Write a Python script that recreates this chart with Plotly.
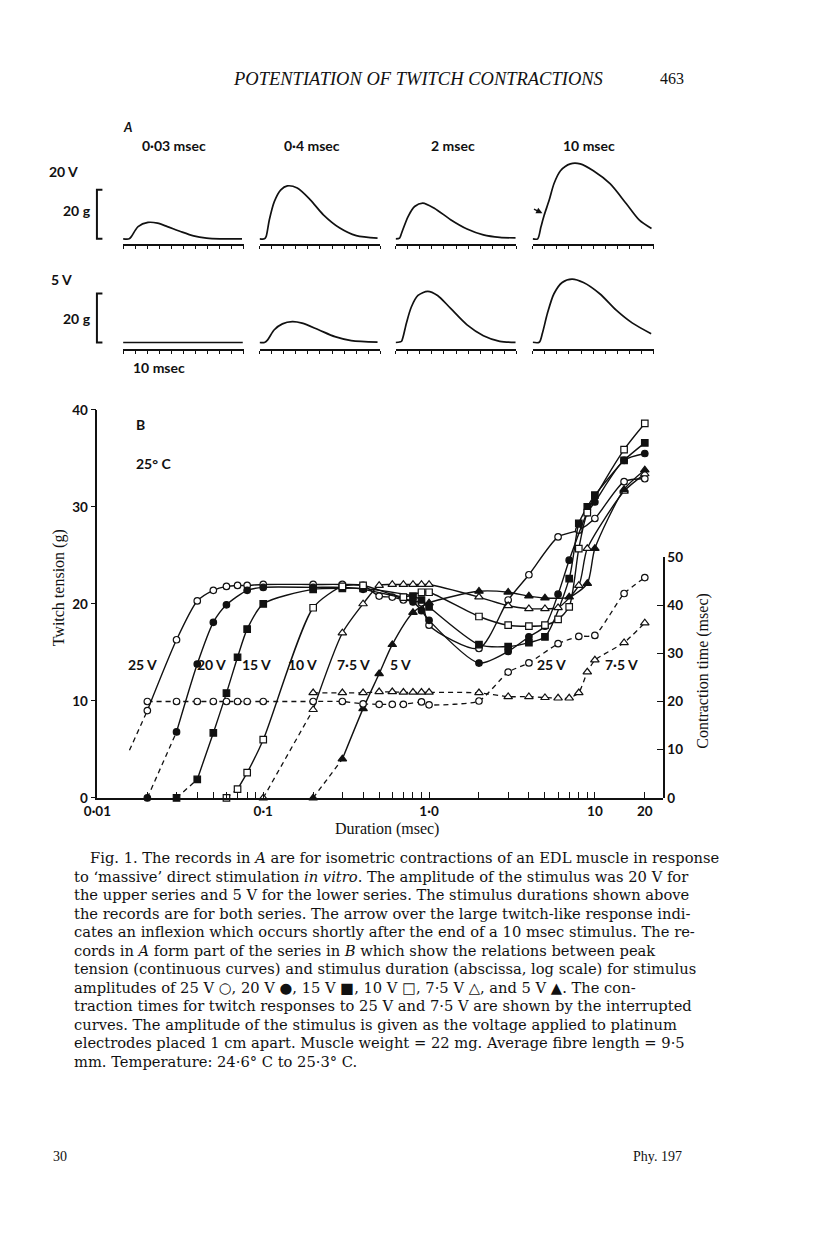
"""Fig. 1 page: twitch records (A) and peak tension / contraction time vs duration (B)."""

import math

import plotly.graph_objects as go

W, H = 800, 1242
# page pixel -> figure pixel, measured from the photographed output
X_OFF, X_SCALE = 20.5, 0.9835
Y_OFF, Y_SCALE = 16.2, 0.987
SANS = "Lato"
SERIF = "Liberation Serif"
CAPTION_FONT = "DejaVu Serif"
INK = "#111111"

# ---------------------------------------------------------------- panel A data
# time after stimulus (ms) and tension (g)
A_COLUMNS = ["0·03 msec", "0·4 msec", "2 msec", "10 msec"]
A_ROWS = ["20 V", "5 V"]

A20_003_T = [0, 5, 6.8, 12.4, 20.6, 28.5, 36.6, 47.4, 58.3, 69.1, 79.9, 98.4]
A20_003_G = [0, 0, 0.9, 5.0, 6.7, 6.4, 5.0, 3.0, 1.2, 0.3, 0, 0]
A20_04_T = [0, 4, 5.4, 8.1, 12.2, 17.6, 23.0, 31.2, 42.0, 52.8, 66.4, 80.0, 97.6]
A20_04_G = [0, 0, 0.9, 7.8, 15.2, 20.0, 21.6, 20.7, 15.9, 9.8, 4.4, 1.3, 0.3]
A20_2_T = [0, 3.3, 4.9, 10.3, 15.7, 22.5, 32.0, 45.5, 59.1, 72.6, 86.2, 99.2]
A20_2_G = [0, 0.3, 2.3, 9.1, 13.2, 14.6, 12.5, 7.8, 4.0, 1.6, 0.6, 0.4]
A20_10_T = [0, 4.1, 6.8, 9.5, 13.6, 17.6, 23.0, 31.2, 39.3, 50.2, 64.0, 77.5, 88.3, 98.3]
A20_10_G = [0, 0, 4.8, 9.6, 15.7, 22.5, 27.8, 30.6, 30.6, 27.8, 22.5, 14.3, 7.6, 4.2]

A5_003_T = [0, 50, 99]
A5_003_G = [0, 0, 0]
A5_04_T = [0, 4, 6.7, 12.2, 18.9, 27.1, 35.2, 48.8, 62.3, 75.9, 97.6]
A5_04_G = [0, 0, 1.1, 5.2, 7.6, 8.5, 7.9, 5.2, 2.4, 0.8, 0.2]
A5_2_T = [0, 3.3, 4.9, 8.9, 13.0, 18.5, 26.6, 34.7, 45.5, 59.1, 72.6, 86.2, 99.2]
A5_2_G = [0, 0.2, 0.5, 7.9, 14.5, 19.2, 20.9, 19.2, 13.9, 7.2, 2.8, 0.5, 0.1]
A5_10_T = [0, 5.4, 8.1, 12.2, 17.6, 24.4, 32.5, 42.0, 55.5, 69.1, 82.6, 98.0]
A5_10_G = [0.1, 0.1, 3.9, 11.9, 19.9, 24.5, 25.9, 24.5, 19.9, 13.2, 7.9, 3.6]

A_RECORDS = [
    [(A20_003_T, A20_003_G), (A20_04_T, A20_04_G), (A20_2_T, A20_2_G), (A20_10_T, A20_10_G)],
    [(A5_003_T, A5_003_G), (A5_04_T, A5_04_G), (A5_2_T, A5_2_G), (A5_10_T, A5_10_G)],
]

# ---------------------------------------------------------------- panel B data
# stimulus duration (msec) vs peak twitch tension (g)
V25_X = [0.02, 0.03, 0.04, 0.05, 0.06, 0.07, 0.08, 0.1, 0.2, 0.3, 0.4, 0.5, 0.6, 0.7,
         0.9, 1.0, 2, 3, 4, 6, 8, 10, 15, 20]
V25_Y = [9.0, 16.3, 20.3, 21.4, 21.8, 21.9, 21.9, 22.0, 22.0, 22.0, 21.9, 20.8, 20.7, 20.4,
         20.1, 17.8, 15.4, 20.4, 23.0, 26.9, 27.6, 28.8, 32.6, 32.9]
V25_EXTRAP_X = [0.0156]
V25_EXTRAP_Y = [4.9]

V20_X = [0.02, 0.03, 0.04, 0.05, 0.06, 0.08, 0.1, 0.2, 0.3, 0.4, 0.8, 0.9, 1.0, 2, 3, 4, 5,
         6, 7, 9, 10, 15, 20]
V20_Y = [0, 6.8, 13.8, 18.1, 19.9, 21.4, 21.7, 21.7, 21.7, 21.5, 20.2, 19.3, 18.3, 13.9, 15.1,
         16.6, 17.7, 21.0, 24.5, 29.4, 30.5, 34.8, 35.5]

V15_X = [0.03, 0.04, 0.05, 0.06, 0.07, 0.08, 0.1, 0.2, 0.3, 0.4, 0.8, 0.9, 1.0, 2, 3, 4, 5,
         7, 8, 9, 10, 15, 20]
V15_Y = [0, 1.9, 6.7, 10.8, 14.5, 17.4, 20.0, 21.5, 21.6, 21.6, 20.8, 20.4, 19.7, 15.8, 15.6,
         16.0, 16.6, 22.6, 28.3, 30.0, 31.2, 34.8, 36.6]

V10_X = [0.06, 0.07, 0.08, 0.1, 0.2, 0.3, 0.4, 0.7, 0.9, 1.0, 2, 3, 4, 5, 6, 7, 8, 9, 15, 20]
V10_Y = [0, 0.9, 2.6, 6.0, 19.6, 21.8, 21.9, 20.7, 21.2, 21.2, 18.7, 17.8, 17.7, 17.8, 18.4,
         19.7, 25.7, 29.4, 35.9, 38.6]

V7_5_X = [0.1, 0.2, 0.3, 0.4, 0.5, 0.6, 0.7, 0.8, 0.9, 1.0, 2, 3, 4, 5, 6, 8, 9, 15, 20]
V7_5_Y = [0, 9.1, 17.0, 20.0, 21.9, 22.0, 22.0, 22.0, 22.0, 22.0, 20.7, 19.8, 19.5, 19.5,
          19.6, 21.9, 25.7, 31.6, 33.4]

V5_X = [0.2, 0.3, 0.4, 0.5, 0.6, 0.8, 1.0, 2, 3, 4, 5, 7, 9, 10, 15, 20]
V5_Y = [0, 4.0, 9.2, 12.8, 15.8, 19.1, 20.1, 21.3, 21.2, 20.8, 20.6, 20.7, 22.1, 25.7,
        31.8, 33.8]

# contraction time (msec), interrupted curves
CT25_X = [0.02, 0.03, 0.04, 0.05, 0.06, 0.07, 0.08, 0.1, 0.2, 0.3, 0.4, 0.5, 0.6, 0.7, 0.9,
          1.0, 2, 3, 4, 6, 8, 10, 15, 20]
CT25_Y = [20, 20, 20, 20, 20, 20, 20, 20, 20, 20, 19.5, 19.4, 19.4, 19.4, 19.9, 19.3, 20.1,
          26.1, 28.0, 32.0, 33.5, 33.7, 42.4, 45.7]
CT7_5_X = [0.2, 0.3, 0.4, 0.5, 0.6, 0.7, 0.8, 0.9, 1.0, 2, 3, 4, 5, 6, 7, 8, 9, 10, 15, 20]
CT7_5_Y = [21.8, 21.8, 21.8, 22, 22, 21.9, 21.9, 21.9, 21.9, 21.8, 21.0, 21.0, 20.8, 20.7,
           20.7, 21.8, 26.1, 28.6, 32.2, 36.3]

X_TICKS = [0.01, 0.02, 0.03, 0.04, 0.05, 0.06, 0.07, 0.08, 0.09,
           0.1, 0.2, 0.3, 0.4, 0.5, 0.6, 0.7, 0.8, 0.9,
           1, 2, 3, 4, 5, 6, 7, 8, 9, 10, 20]
X_TICK_LABELS = {0.01: "0·01", 0.1: "0·1", 1: "1·0", 10: "10", 20: "20"}

CAPTION = [
    "Fig. 1. The records in <i>A</i> are for isometric contractions of an EDL muscle in response",
    "to ‘massive’ direct stimulation <i>in vitro</i>. The amplitude of the stimulus was 20 V for",
    "the upper series and 5 V for the lower series. The stimulus durations shown above",
    "the records are for both series. The arrow over the large twitch-like response indi-",
    "cates an inflexion which occurs shortly after the end of a 10 msec stimulus. The re-",
    "cords in <i>A</i> form part of the series in <i>B</i> which show the relations between peak",
    "tension (continuous curves) and stimulus duration (abscissa, log scale) for stimulus",
    "amplitudes of 25 V ○, 20 V ●, 15 V ■, 10 V □, 7·5 V △, and 5 V ▲. The con-",
    "traction times for twitch responses to 25 V and 7·5 V are shown by the interrupted",
    "curves. The amplitude of the stimulus is given as the voltage applied to platinum",
    "electrodes placed 1 cm apart. Muscle weight = 22 mg. Average fibre length = 9·5",
    "mm. Temperature: 24·6° C to 25·3° C.",
]


def fx(px):
    """Page pixel (x) -> paper fraction of the figure."""
    return (px - X_OFF) / X_SCALE / W


def fy(py):
    """Page pixel (y, from top) -> paper fraction of the figure."""
    return 1 - (py - Y_OFF) / Y_SCALE / H


def lx(px):
    """log10 duration at a horizontal pixel of panel B (label placement)."""
    return (px - 428) / 166


fig = go.Figure()
annotations = []
shapes = []

# ---------------------------------------------------------------- panel A
A_COL_LEFT = [121.7, 258.3, 394.5, 531.7]
A_COL_W = 121
A_ROW_BOX = [(244.5, 141.0, -2.24), (349.3, 249.3, -2.7)]  # (bottom px, top px, range min)
A_GMAX = [40.0, 38.1]

layout_axes = {}
k = 3
for r, row in enumerate(A_RECORDS):
    bottom, top, gmin = A_ROW_BOX[r]
    for c, (t, g) in enumerate(row):
        fig.add_trace(go.Scatter(
            x=t, y=g, mode="lines", xaxis=f"x{k}", yaxis=f"y{k}",
            line=dict(color=INK, width=1.7, shape="spline", smoothing=0.8),
            hoverinfo="skip",
        ))
        layout_axes[f"xaxis{k}"] = dict(
            domain=[fx(A_COL_LEFT[c]), fx(A_COL_LEFT[c] + A_COL_W)], range=[0, 100],
            anchor=f"y{k}", showline=True, linecolor=INK, linewidth=1.8,
            ticks="outside", ticklen=3, tickwidth=1.3, tickcolor=INK,
            tick0=0, dtick=10, showticklabels=False, showgrid=False, zeroline=False,
        )
        layout_axes[f"yaxis{k}"] = dict(
            domain=[fy(bottom), fy(top)], range=[gmin, A_GMAX[r]],
            anchor=f"x{k}", visible=False,
        )
        if c == 0:
            # 20 g calibration bracket
            span = A_GMAX[r] - gmin
            y0 = (0 - gmin) / span
            y1 = (20 - gmin) / span
            x_bar = (95.5 - A_COL_LEFT[0]) / A_COL_W
            x_end = (101 - A_COL_LEFT[0]) / A_COL_W
            shapes.append(dict(
                type="path", xref=f"x{k} domain", yref=f"y{k} domain",
                path=f"M {x_end},{y1} L {x_bar},{y1} L {x_bar},{y0} L {x_end},{y0}",
                line=dict(color=INK, width=2),
            ))
        if r == 0 and c == 3:
            annotations.append(dict(
                x=8.1, y=10.4, xref=f"x{k}", yref=f"y{k}", text="", showarrow=True,
                ax=-10, ay=-5, arrowhead=2, arrowsize=0.9, arrowwidth=1.4, arrowcolor=INK,
            ))
        k += 1

a_font = dict(family=SANS, size=14, color=INK, weight="bold")
for c, label in enumerate(A_COLUMNS):
    annotations.append(dict(x=fx(A_COL_LEFT[c] + [51, 52, 57, 56][c]), y=fy(146),
                            text=label, font=a_font))
annotations += [
    dict(x=fx(120), y=fy(127), text="<i>A</i>", xanchor="left",
         font=dict(family=SANS, size=13, color=INK, weight="bold")),
    dict(x=fx(62), y=fy(172), text=A_ROWS[0], font=a_font),
    dict(x=fx(60), y=fy(280), text=A_ROWS[1], font=a_font),
    dict(x=fx(76), y=fy(211), text="20 g", font=a_font),
    dict(x=fx(76), y=fy(319), text="20 g", font=a_font),
    dict(x=fx(158), y=fy(368), text="10 msec", font=a_font),
]

# ---------------------------------------------------------------- panel B
LINE = dict(color=INK, width=1.4)
DASH = dict(color=INK, width=1.3, dash="5px,4px")

# (x, y, symbol, filled, size)
TENSION_SERIES = [
    (V25_X, V25_Y, "circle", False, 6.5),
    (V20_X, V20_Y, "circle", True, 6.5),
    (V15_X, V15_Y, "square", True, 6.5),
    (V10_X, V10_Y, "square", False, 6.5),
    (V7_5_X, V7_5_Y, "triangle-up", False, 7.5),
    (V5_X, V5_Y, "triangle-up", True, 7.5),
]


def marker(symbol, filled, size):
    return dict(symbol=symbol, size=size, color=INK if filled else "white",
                line=dict(color=INK, width=1.2))


for xs, ys, symbol, filled, size in TENSION_SERIES:
    if ys[0] == 0:
        dx, dy = xs[:2], ys[:2]
        sx, sy = xs[1:], ys[1:]
    else:
        dx, dy = V25_EXTRAP_X + xs[:1], V25_EXTRAP_Y + ys[:1]
        sx, sy = xs, ys
    fig.add_trace(go.Scatter(x=dx, y=dy, mode="lines", line=DASH, hoverinfo="skip"))
    fig.add_trace(go.Scatter(
        x=sx, y=sy, mode="lines",
        line=dict(**LINE, shape="spline", smoothing=0.7), hoverinfo="skip",
    ))
    fig.add_trace(go.Scatter(x=xs, y=ys, mode="markers", cliponaxis=False,
                             marker=marker(symbol, filled, size)))

for xs, ys, symbol, size in [(CT25_X, CT25_Y, "circle", 6.5),
                             (CT7_5_X, CT7_5_Y, "triangle-up", 7.5)]:
    fig.add_trace(go.Scatter(
        x=xs, y=ys, mode="lines+markers", yaxis="y2", cliponaxis=False,
        line=dict(**DASH, shape="spline", smoothing=0.5),
        marker=marker(symbol, False, size),
    ))

tick_font = dict(family=SANS, size=13.5, color=INK, weight="bold")
tick_text = [X_TICK_LABELS.get(v, "") for v in X_TICKS]
layout_axes["xaxis"] = dict(
    domain=[fx(96), fx(662)], type="log", range=[-2, math.log10(25.7)], anchor="y",
    showline=True, linecolor=INK, linewidth=1.6, ticks="inside", ticklen=6, tickwidth=1.3,
    tickcolor=INK, tickvals=X_TICKS, ticktext=tick_text, showgrid=False, zeroline=False,
    tickfont=tick_font,
)
layout_axes["yaxis"] = dict(
    domain=[fy(798), fy(410)], range=[0, 40], anchor="x", showline=True, linecolor=INK,
    linewidth=1.6, ticks="outside", ticklen=5, tickwidth=1.3, tickcolor=INK,
    tickvals=[0, 10, 20, 30, 40], showgrid=False, zeroline=False, tickfont=tick_font,
)
layout_axes["yaxis2"] = dict(
    domain=[fy(798), fy(557)], range=[0, 50], anchor="x", side="right", showline=True,
    linecolor=INK, linewidth=1.6, ticks="inside", ticklen=6, tickwidth=1.3, tickcolor=INK,
    tickvals=[0, 10, 20, 30, 40, 50], showgrid=False, zeroline=False, tickfont=tick_font,
)

label_font = dict(family=SANS, size=14, color=INK, weight="bold")
for text, px in [("25 V", 141), ("20 V", 210), ("15 V", 255), ("10 V", 301),
                 ("7·5 V", 352), ("5 V", 399), ("25 V", 551), ("7·5 V", 621)]:
    annotations.append(dict(x=lx(px), y=13.7, xref="x", yref="y", text=text,
                            font=label_font))
annotations += [
    dict(x=fx(133), y=fy(425), text="B", xanchor="left", font=label_font),
    dict(x=fx(133), y=fy(464), text="25° C", xanchor="left", font=label_font),
    dict(x=fx(57), y=fy(588), text="Twitch tension (g)", textangle=-90,
         font=dict(family=SERIF, size=16, color=INK)),
    dict(x=fx(702), y=fy(671), text="Contraction time (msec)", textangle=-90,
         font=dict(family=SERIF, size=16, color=INK)),
    dict(x=fx(386), y=fy(829), text="Duration (msec)",
         font=dict(family=SERIF, size=16, color=INK)),
]

# ---------------------------------------------------------------- page text
annotations += [
    dict(x=fx(417), y=fy(79), text="<i>POTENTIATION OF TWITCH CONTRACTIONS</i>",
         font=dict(family=SERIF, size=18.5, color=INK)),
    dict(x=fx(671), y=fy(79), text="463", font=dict(family=SERIF, size=16, color=INK)),
    dict(x=fx(59), y=fy(1157), text="30", font=dict(family=SERIF, size=14, color=INK)),
    dict(x=fx(657), y=fy(1157), text="Phy. 197", font=dict(family=SERIF, size=14, color=INK)),
]
for i, line in enumerate(CAPTION):
    annotations.append(dict(
        x=fx(87 if i == 0 else 71), y=fy(858 + 18.5 * i), text=line, xanchor="left",
        font=dict(family=CAPTION_FONT, size=14.7, color=INK),
    ))

for a in annotations:
    a.setdefault("showarrow", False)
    a.setdefault("xref", "paper")
    a.setdefault("yref", "paper")
    a.setdefault("xanchor", "center")
    a.setdefault("yanchor", "middle")

fig.update_layout(
    width=W, height=H, margin=dict(l=0, r=0, t=0, b=0),
    paper_bgcolor="white", plot_bgcolor="rgba(0,0,0,0)",
    showlegend=False, annotations=annotations, shapes=shapes,
    **layout_axes,
)
fig.write_html("out.html")
